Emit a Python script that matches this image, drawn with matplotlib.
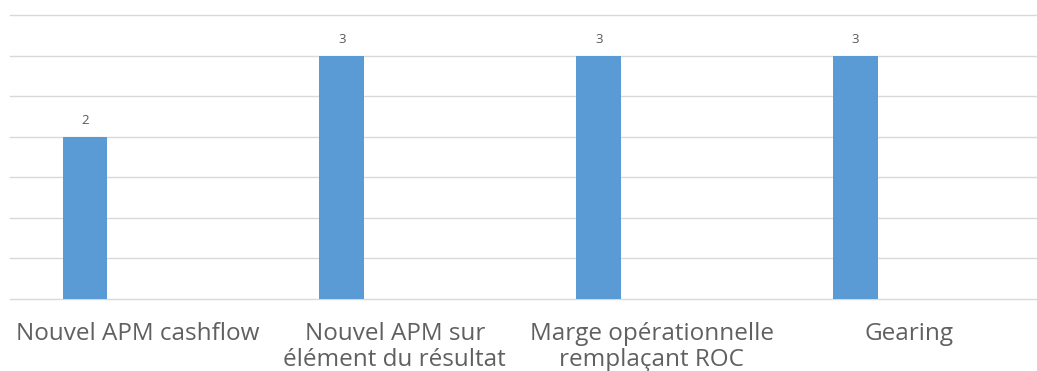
import numpy as np
import matplotlib.pyplot as plt

categories = ["Nouvel APM cashflow", "Nouvel APM sur\nélément du résultat",
              "Marge opérationnelle\nremplaçant ROC", "Gearing"]
values = [2, 3, 3, 3]

plt.rcParams['font.family'] = ['Open Sans', 'DejaVu Sans']

fig = plt.figure(figsize=(10.37, 3.71), dpi=100)
# axes placed in pixel terms: x 9.5..1037, y 15..299 (from top)
ax = fig.add_axes([9.5 / 1037, 1 - 299 / 371, (1037 - 9.5) / 1037, (299 - 15) / 371])

x = np.arange(len(categories))
bar_off = -0.206
bars = ax.bar(x + bar_off, values, width=0.175, color='#5B9BD5', zorder=3)

for b, v in zip(bars, values):
    ax.annotate(str(v), (b.get_x() + b.get_width() / 2, v), xytext=(0, 7),
                textcoords='offset points', ha='center', va='bottom',
                fontsize=9.5, color='#595959')

ax.set_xlim(-0.5, len(categories) - 0.5)
ax.set_ylim(0, 3.5)
ax.set_yticks(np.arange(0, 3.6, 0.5))
ax.yaxis.grid(True, color='#d9d9d9', linewidth=1, zorder=0, clip_on=False)
ax.tick_params(axis='y', left=False, labelleft=False)
ax.set_xticks(x)
ax.set_xticklabels(categories, fontsize=17.5, color='#606060', linespacing=1.12)
ax.tick_params(axis='x', length=0, pad=16.5)
for s in ax.spines.values():
    s.set_visible(False)

fig.savefig('out.png', dpi=100)
